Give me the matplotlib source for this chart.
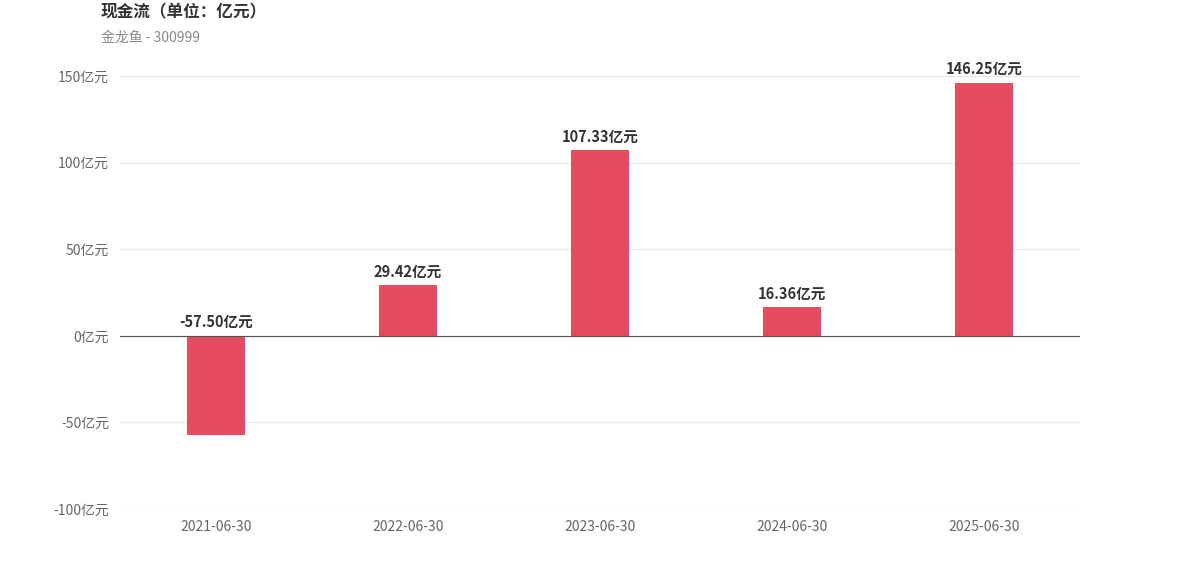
import matplotlib
matplotlib.use("Agg")
import matplotlib.pyplot as plt

plt.rcParams['font.family'] = ['Noto Sans CJK SC', 'DejaVu Sans']

categories = ["2021-06-30", "2022-06-30", "2023-06-30", "2024-06-30", "2025-06-30"]
values = [-57.50, 29.42, 107.33, 16.36, 146.25]
yticks = [-100, -50, 0, 50, 100, 150]

fig = plt.figure(figsize=(12, 5.76), dpi=100)
ax = fig.add_axes([0.1, 0.1163, 0.8, 0.7517])
x = list(range(len(categories)))
ax.bar(x, values, width=0.3, color="#E64A5E", zorder=3)
ax.set_xlim(-0.5, len(categories) - 0.5)
ax.set_ylim(-100, 150)
ax.set_yticks(yticks)
ax.set_yticklabels([f"{t}亿元" for t in yticks], color="#666666", fontsize=10)
ax.set_xticks(x)
ax.set_xticklabels(categories, color="#666666", fontsize=10)
ax.tick_params(length=0, pad=8)
ax.grid(axis='y', color="#e6e6e6", lw=0.8, zorder=0)
ax.axhline(0, color="#555555", lw=0.8, zorder=4)
for s in ax.spines.values():
    s.set_visible(False)
for xi, v in zip(x, values):
    ax.annotate(f"{v:.2f}亿元", (xi, max(v, 0)), xytext=(0, 4), textcoords="offset points",
                ha="center", va="bottom", fontsize=10.5, fontweight="bold", color="#333333")
fig.text(101/1200, 1 - 12/576, "现金流（单位：亿元）", fontsize=12, fontweight="bold",
         color="#333333", va="center", ha="left")
fig.text(101/1200, 1 - 38/576, "金龙鱼 - 300999", fontsize=10, color="#888888",
         va="center", ha="left")
fig.savefig("out.png", dpi=100)
